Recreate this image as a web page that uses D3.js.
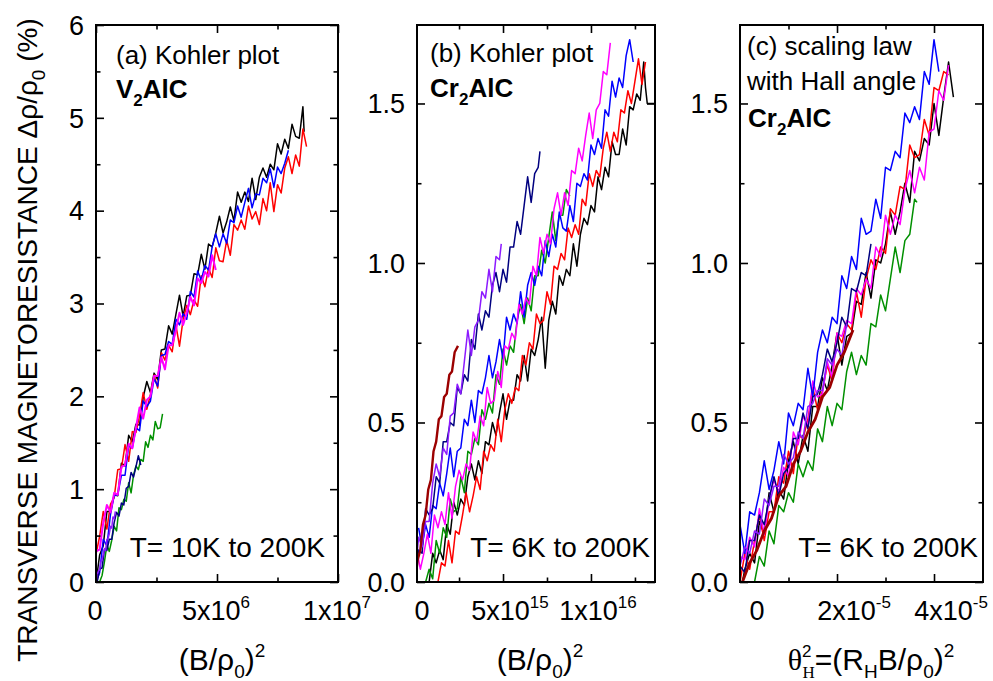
<!DOCTYPE html>
<html>
<head>
<meta charset="utf-8">
<script src="https://cdn.jsdelivr.net/npm/d3@7"></script>
<style>
  body { margin: 0; background: #fff; }
  text { font-family: "Liberation Sans", Arial, sans-serif; fill: #000; }
</style>
</head>
<body>
<svg width="993" height="681"></svg>
<script>
// ---- data ----
// panel (a): x in units of 1e6 (B/rho0)^2, y in %
var a_black = [[0,0.00],[0.15,0.29],[0.3,0.39],[0.45,0.76],[0.6,0.76],[0.75,0.94],[0.9,0.93],[1.05,1.28],[1.2,1.25],[1.35,1.58],[1.5,1.51],[1.65,1.70],[1.8,1.69],[1.95,1.99],[2.1,2.16],[2.25,2.04],[2.4,2.25],[2.55,2.18],[2.7,2.50],[2.85,2.51],[3.0,2.76],[3.15,2.67],[3.3,2.88],[3.45,3.09],[3.6,2.86],[3.75,3.08],[3.9,3.09],[4.05,3.32],[4.2,3.31],[4.35,3.53],[4.5,3.37],[4.65,3.64],[4.8,3.61],[4.95,3.76],[5.1,3.94],[5.25,3.76],[5.4,3.88],[5.55,4.04],[5.7,3.89],[5.85,4.20],[6.0,4.09],[6.15,4.20],[6.3,4.10],[6.45,4.35],[6.6,4.12],[6.75,4.36],[6.9,4.46],[7.05,4.36],[7.2,4.50],[7.35,4.44],[7.5,4.72],[7.65,4.61],[7.8,4.77],[7.95,4.67],[8.1,4.93],[8.25,4.80],[8.4,4.78],[8.55,5.12],[8.6,4.85]];
var a_red = [[0,0.30],[0.15,0.49],[0.3,0.76],[0.45,0.57],[0.6,0.84],[0.75,0.91],[0.9,1.21],[1.05,1.22],[1.2,1.48],[1.35,1.30],[1.5,1.62],[1.65,1.61],[1.8,1.79],[1.95,2.04],[2.1,1.86],[2.25,2.02],[2.4,2.23],[2.55,2.09],[2.7,2.47],[2.85,2.39],[3.0,2.55],[3.15,2.48],[3.3,2.77],[3.45,2.54],[3.6,2.83],[3.75,2.98],[3.9,2.88],[4.05,3.04],[4.2,2.97],[4.35,3.30],[4.5,3.18],[4.65,3.38],[4.8,3.28],[4.95,3.60],[5.1,3.46],[5.25,3.45],[5.4,3.68],[5.55,3.52],[5.7,3.85],[5.85,3.79],[6.0,3.90],[6.15,3.80],[6.3,4.05],[6.45,3.91],[6.6,3.99],[6.75,3.85],[6.9,4.13],[7.05,4.00],[7.2,4.30],[7.35,3.99],[7.5,4.28],[7.65,4.19],[7.8,4.46],[7.95,4.58],[8.1,4.40],[8.25,4.60],[8.4,4.48],[8.55,4.88],[8.7,4.69]];
var a_blue = [[0,0.00],[0.15,0.10],[0.3,0.46],[0.45,0.39],[0.6,0.73],[0.75,0.93],[0.9,0.94],[1.05,1.15],[1.2,1.15],[1.35,1.47],[1.5,1.44],[1.65,1.66],[1.8,1.63],[1.95,1.95],[2.1,1.89],[2.25,1.95],[2.4,2.19],[2.55,2.11],[2.7,2.44],[2.85,2.45],[3.0,2.59],[3.15,2.56],[3.3,2.83],[3.45,2.77],[3.6,2.89],[3.75,2.83],[3.9,3.13],[4.05,3.07],[4.2,3.35],[4.35,3.25],[4.5,3.41],[4.65,3.36],[4.8,3.61],[4.95,3.75],[5.1,3.61],[5.25,3.75],[5.4,3.65],[5.55,3.90],[5.7,3.87],[5.85,4.05],[6.0,3.93],[6.15,4.09],[6.3,4.24],[6.45,4.03],[6.6,4.18],[6.75,4.17],[6.9,4.35],[7.05,4.30],[7.2,4.45],[7.35,4.25],[7.5,4.47],[7.65,4.40],[7.8,4.51],[7.95,4.65]];
var a_magenta = [[0,0.33],[0.15,0.35],[0.3,0.64],[0.45,0.83],[0.6,0.75],[0.75,0.96],[0.9,0.94],[1.05,1.24],[1.2,1.26],[1.35,1.49],[1.5,1.44],[1.65,1.66],[1.8,1.88],[1.95,1.76],[2.1,1.96],[2.25,2.00],[2.4,2.22],[2.55,2.22],[2.7,2.42],[2.85,2.29],[3.0,2.55],[3.15,2.55],[3.3,2.71],[3.45,2.90],[3.6,2.77],[3.75,2.90],[3.9,3.07],[4.05,2.98],[4.2,3.27],[4.35,3.22],[4.5,3.34],[4.65,3.29],[4.8,3.52],[4.95,3.36]];
var a_green = [[0.15,0.00],[0.25,0.07],[0.35,0.22],[0.45,0.40],[0.55,0.33],[0.65,0.45],[0.75,0.60],[0.85,0.55],[0.95,0.80],[1.05,0.78],[1.15,0.89],[1.25,0.87],[1.35,1.07],[1.45,0.96],[1.55,1.15],[1.65,1.25],[1.75,1.21],[1.85,1.32],[1.95,1.30],[2.05,1.51],[2.15,1.45],[2.25,1.58],[2.35,1.53],[2.45,1.73],[2.55,1.65],[2.65,1.66],[2.75,1.81]];
var a_navy = [[0.05,0.00],[0.15,0.14],[0.25,0.15],[0.35,0.35],[0.45,0.34],[0.55,0.46],[0.65,0.46],[0.75,0.64],[0.85,0.75],[0.95,0.71],[1.05,0.85],[1.15,0.83],[1.25,1.01],[1.35,1.03],[1.45,1.18],[1.55,1.13],[1.65,1.24],[1.75,1.36],[1.85,1.26]];
var a_violet = [[0,0.00],[0.05,0.08],[0.1,0.12],[0.15,0.13],[0.2,0.22],[0.25,0.24],[0.3,0.30],[0.35,0.36],[0.4,0.34],[0.45,0.46],[0.5,0.47],[0.55,0.52],[0.6,0.60],[0.65,0.58],[0.7,0.70],[0.75,0.68],[0.8,0.76]];

// panel (b): x in units of 1e15
var b_black = [[0.6,0.00],[0.8,0.00],[1.0,0.09],[1.2,0.06],[1.4,0.10],[1.6,0.07],[1.8,0.18],[2.0,0.15],[2.2,0.25],[2.4,0.21],[2.6,0.26],[2.8,0.24],[3.0,0.33],[3.2,0.37],[3.4,0.32],[3.6,0.38],[3.8,0.34],[4.0,0.44],[4.2,0.43],[4.4,0.50],[4.6,0.46],[4.8,0.53],[5.0,0.59],[5.2,0.51],[5.4,0.57],[5.6,0.57],[5.8,0.65],[6.0,0.63],[6.2,0.71],[6.4,0.63],[6.6,0.73],[6.8,0.71],[7.0,0.76],[7.2,0.83],[7.4,0.67],[7.6,0.82],[7.8,0.88],[8.0,0.84],[8.2,0.96],[8.4,0.93],[8.6,0.98],[8.8,0.96],[9.0,1.06],[9.2,0.99],[9.4,1.09],[9.6,1.14],[9.8,1.12],[10.0,1.18],[10.2,1.16],[10.4,1.27],[10.6,1.23],[10.8,1.30],[11.0,1.27],[11.2,1.38],[11.4,1.34],[11.6,1.34],[11.8,1.42],[12.0,1.37],[12.2,1.49],[12.4,1.48],[12.6,1.53],[12.8,1.51],[13.0,1.63],[13.1,1.55],[13.2,1.50],[13.64,1.50]];
var b_red = [[1.3,0.00],[1.5,0.06],[1.7,0.05],[1.9,0.13],[2.1,0.06],[2.3,0.16],[2.5,0.15],[2.7,0.21],[2.9,0.28],[3.1,0.22],[3.3,0.27],[3.5,0.33],[3.7,0.29],[3.9,0.41],[4.1,0.38],[4.3,0.43],[4.5,0.41],[4.7,0.51],[4.9,0.44],[5.1,0.54],[5.3,0.59],[5.5,0.56],[5.7,0.61],[5.9,0.60],[6.1,0.71],[6.3,0.68],[6.5,0.75],[6.7,0.73],[6.9,0.84],[7.1,0.81],[7.3,0.82],[7.5,0.91],[7.7,0.87],[7.9,0.99],[8.1,0.98],[8.3,1.03],[8.5,1.01],[8.7,1.11],[8.9,1.08],[9.1,1.12],[9.3,1.09],[9.5,1.20],[9.7,1.18],[9.9,1.28],[10.1,1.24],[10.3,1.29],[10.5,1.27],[10.7,1.36],[10.9,1.41],[11.1,1.35],[11.3,1.41],[11.5,1.38],[11.7,1.48],[11.9,1.47],[12.1,1.54],[12.3,1.50],[12.5,1.57],[12.7,1.64],[12.9,1.56],[13.1,1.63]];
var b_green = [[0.4,0.00],[0.6,0.00],[0.8,0.04],[1.0,0.01],[1.2,0.13],[1.4,0.09],[1.6,0.17],[1.8,0.14],[2.0,0.26],[2.2,0.22],[2.4,0.23],[2.6,0.33],[2.8,0.28],[3.0,0.41],[3.2,0.40],[3.4,0.45],[3.6,0.43],[3.8,0.54],[4.0,0.51],[4.2,0.56],[4.4,0.53],[4.6,0.65],[4.8,0.62],[5.0,0.73],[5.2,0.68],[5.4,0.74],[5.6,0.72],[5.8,0.82],[6.0,0.87],[6.2,0.81],[6.4,0.89],[6.6,0.85],[6.8,0.96],[7.0,0.96],[7.2,1.04],[7.4,1.00],[7.6,1.08],[7.8,1.16],[8.0,1.07],[8.2,1.15],[8.4,1.15],[8.6,1.23],[8.8,1.21]];
var b_blue = [[0.2,0.17],[0.4,0.11],[0.6,0.18],[0.8,0.14],[1.0,0.24],[1.2,0.23],[1.4,0.31],[1.6,0.27],[1.8,0.34],[2.0,0.42],[2.2,0.33],[2.4,0.41],[2.6,0.42],[2.8,0.51],[3.0,0.49],[3.2,0.57],[3.4,0.50],[3.6,0.60],[3.8,0.59],[4.0,0.64],[4.2,0.71],[4.4,0.64],[4.6,0.69],[4.8,0.76],[5.0,0.70],[5.2,0.83],[5.4,0.79],[5.6,0.84],[5.8,0.81],[6.0,0.91],[6.2,0.83],[6.4,0.93],[6.6,0.97],[6.8,0.93],[7.0,0.99],[7.2,0.96],[7.4,1.07],[7.6,1.02],[7.8,1.09],[8.0,1.05],[8.2,1.16],[8.4,1.11],[8.6,1.10],[8.8,1.18],[9.0,1.13],[9.2,1.25],[9.4,1.24],[9.6,1.28],[9.8,1.26],[10.0,1.37],[10.2,1.34],[10.4,1.39],[10.6,1.36],[10.8,1.48],[11.0,1.46],[11.2,1.57],[11.4,1.52],[11.6,1.58],[11.8,1.55],[12.0,1.65],[12.2,1.70],[12.4,1.63]];
var b_magenta = [[0.1,0.10],[0.3,0.04],[0.5,0.09],[0.7,0.15],[0.9,0.09],[1.1,0.21],[1.3,0.17],[1.5,0.22],[1.7,0.18],[1.9,0.28],[2.1,0.20],[2.3,0.30],[2.5,0.35],[2.7,0.32],[2.9,0.37],[3.1,0.35],[3.3,0.47],[3.5,0.44],[3.7,0.52],[3.9,0.49],[4.1,0.61],[4.3,0.56],[4.5,0.57],[4.7,0.66],[4.9,0.61],[5.1,0.74],[5.3,0.73],[5.5,0.78],[5.7,0.76],[5.9,0.87],[6.1,0.84],[6.3,0.89],[6.5,0.87],[6.7,0.99],[6.9,0.96],[7.1,1.08],[7.3,1.03],[7.5,1.09],[7.7,1.06],[7.9,1.17],[8.1,1.22],[8.3,1.15],[8.5,1.22],[8.7,1.18],[8.9,1.29],[9.1,1.28],[9.3,1.36],[9.5,1.32],[9.7,1.40],[9.9,1.47],[10.1,1.39],[10.3,1.48],[10.5,1.50],[10.7,1.60],[10.9,1.59],[11.1,1.69]];
var b_navy = [[0,0.02],[0.2,0.10],[0.4,0.09],[0.6,0.23],[0.8,0.21],[1.0,0.23],[1.2,0.33],[1.4,0.31],[1.6,0.44],[1.8,0.44],[2.0,0.50],[2.2,0.49],[2.4,0.61],[2.6,0.59],[2.8,0.65],[3.0,0.63],[3.2,0.76],[3.4,0.73],[3.6,0.84],[3.8,0.79],[4.0,0.85],[4.2,0.83],[4.4,0.93],[4.6,0.97],[4.8,0.91],[5.0,0.98],[5.2,0.94],[5.4,1.05],[5.6,1.05],[5.8,1.13],[6.0,1.09],[6.2,1.18],[6.4,1.27],[6.6,1.19],[6.8,1.28],[7.0,1.30],[7.1,1.35]];
var b_violet = [[0,0.02],[0.2,0.14],[0.4,0.11],[0.6,0.19],[0.8,0.19],[1.0,0.31],[1.2,0.37],[1.4,0.33],[1.6,0.42],[1.8,0.40],[2.0,0.52],[2.2,0.53],[2.4,0.62],[2.6,0.59],[2.8,0.69],[3.0,0.79],[3.2,0.71],[3.4,0.80],[3.6,0.82],[3.8,0.91],[4.0,0.89],[4.2,0.98],[4.4,0.91],[4.6,1.02],[4.8,1.01],[4.9,1.06]];
var b_maroon = [[0,0.00],[0.15,0.07],[0.3,0.10],[0.45,0.18],[0.6,0.21],[0.75,0.29],[0.9,0.32],[1.05,0.41],[1.2,0.44],[1.35,0.51],[1.5,0.52],[1.65,0.58],[1.8,0.59],[1.95,0.65],[2.1,0.66],[2.25,0.72],[2.44,0.74]];

// panel (c): x in units of 1e-5 (theta_H^2)
var c_black = [[0.05,0.00],[0.1,0.04],[0.2,0.09],[0.3,0.06],[0.4,0.19],[0.5,0.15],[0.6,0.28],[0.7,0.22],[0.8,0.29],[0.9,0.26],[1.0,0.38],[1.1,0.44],[1.2,0.37],[1.3,0.46],[1.4,0.41],[1.5,0.55],[1.6,0.55],[1.7,0.64],[1.8,0.60],[1.9,0.68],[2.0,0.78],[2.1,0.68],[2.2,0.77],[2.3,0.78],[2.4,0.88],[2.5,0.87],[2.6,0.97],[2.7,0.89],[2.8,1.01],[2.9,1.00],[3.0,1.06],[3.1,1.16],[3.2,1.09],[3.3,1.16],[3.4,1.25],[3.5,1.19],[3.6,1.35],[3.7,1.32],[3.8,1.39],[3.9,1.37],[4.0,1.50],[4.1,1.40],[4.2,1.52],[4.3,1.63],[4.4,1.52]];
var c_red = [[0,0.00],[0.1,0.09],[0.2,0.04],[0.3,0.13],[0.4,0.21],[0.5,0.13],[0.6,0.22],[0.7,0.22],[0.8,0.33],[0.9,0.31],[1.0,0.41],[1.1,0.34],[1.2,0.46],[1.3,0.45],[1.4,0.51],[1.5,0.61],[1.6,0.54],[1.7,0.60],[1.8,0.68],[1.9,0.63],[2.0,0.78],[2.1,0.75],[2.2,0.81],[2.3,0.79],[2.4,0.91],[2.5,0.83],[2.6,0.95],[2.7,1.01],[2.8,0.98],[2.9,1.05],[3.0,1.03],[3.1,1.17],[3.2,1.15],[3.3,1.24],[3.4,1.23],[3.5,1.37],[3.6,1.33],[3.7,1.34],[3.8,1.45],[3.9,1.40],[4.0,1.55],[4.1,1.54],[4.2,1.60],[4.3,1.59]];
var c_magenta = [[0,0.08],[0.1,0.07],[0.2,0.14],[0.3,0.11],[0.4,0.23],[0.5,0.15],[0.6,0.26],[0.7,0.32],[0.8,0.28],[0.9,0.36],[1.0,0.33],[1.1,0.47],[1.2,0.43],[1.3,0.52],[1.4,0.49],[1.5,0.63],[1.6,0.58],[1.7,0.59],[1.8,0.69],[1.9,0.64],[2.0,0.78],[2.1,0.77],[2.2,0.82],[2.3,0.81],[2.4,0.92],[2.5,0.90],[2.6,0.95],[2.7,0.92],[2.8,1.05],[2.9,1.02],[3.0,1.15],[3.1,1.09],[3.2,1.15],[3.3,1.12],[3.4,1.23],[3.5,1.29],[3.6,1.22],[3.7,1.30],[3.8,1.26],[3.9,1.41],[4.0,1.42],[4.1,1.54],[4.2,1.51],[4.3,1.62]];
var c_blue = [[0,0.18],[0.1,0.09],[0.2,0.22],[0.3,0.21],[0.4,0.28],[0.5,0.38],[0.6,0.29],[0.7,0.35],[0.8,0.44],[0.9,0.37],[1.0,0.53],[1.1,0.49],[1.2,0.56],[1.3,0.54],[1.4,0.67],[1.5,0.58],[1.6,0.72],[1.7,0.79],[1.8,0.75],[1.9,0.83],[2.0,0.81],[2.1,0.96],[2.2,0.92],[2.3,1.02],[2.4,0.98],[2.5,1.14],[2.6,1.09],[2.7,1.10],[2.8,1.20],[2.9,1.14],[3.0,1.30],[3.1,1.29],[3.2,1.35],[3.3,1.33],[3.4,1.47],[3.5,1.44],[3.6,1.49],[3.7,1.45],[3.8,1.60],[3.9,1.56],[4.0,1.70],[4.1,1.60]];
var c_navy = [[0,0.05],[0.1,0.03],[0.2,0.13],[0.3,0.13],[0.4,0.21],[0.5,0.18],[0.6,0.26],[0.7,0.33],[0.8,0.27],[0.9,0.34],[1.0,0.36],[1.1,0.45],[1.2,0.45],[1.3,0.53],[1.4,0.48],[1.5,0.58],[1.6,0.59],[1.7,0.65],[1.8,0.73],[1.9,0.69],[2.0,0.75],[2.1,0.83],[2.2,0.80],[2.3,0.92],[2.4,0.91],[2.5,0.97],[2.6,0.96],[2.7,1.06]];
var c_violet = [[0,0.05],[0.1,0.11],[0.2,0.09],[0.3,0.16],[0.4,0.15],[0.5,0.26],[0.6,0.24],[0.7,0.30],[0.8,0.30],[0.9,0.40],[1.0,0.37],[1.1,0.39],[1.2,0.47],[1.3,0.45],[1.4,0.55],[1.5,0.56],[1.6,0.60],[1.7,0.60],[1.8,0.70],[1.9,0.68],[2.0,0.73],[2.1,0.71],[2.2,0.81]];
var c_green = [[0.3,0.00],[0.4,0.08],[0.5,0.05],[0.6,0.16],[0.7,0.12],[0.8,0.24],[0.9,0.22],[1.0,0.28],[1.1,0.25],[1.2,0.37],[1.3,0.33],[1.4,0.38],[1.5,0.35],[1.6,0.48],[1.7,0.44],[1.8,0.55],[1.9,0.49],[2.0,0.56],[2.1,0.54],[2.2,0.66],[2.3,0.72],[2.4,0.65],[2.5,0.71],[2.6,0.68],[2.7,0.81],[2.8,0.80],[2.9,0.90],[3.0,0.85],[3.1,0.95],[3.2,1.05],[3.3,0.97],[3.4,1.07],[3.5,1.09],[3.6,1.20],[3.65,1.19]];
var c_maroon = [[0.05,0.00],[0.2,0.06],[0.35,0.10],[0.5,0.16],[0.65,0.20],[0.8,0.27],[0.95,0.30],[1.1,0.37],[1.25,0.41],[1.4,0.47],[1.55,0.51],[1.7,0.58],[1.85,0.61],[2.0,0.68],[2.15,0.72],[2.33,0.79]];

// tick values
var aYMajor = [0, 1, 2, 3, 4, 5, 6], aYMinor = [0.5, 1.5, 2.5, 3.5, 4.5, 5.5];
var aXMajor = [0, 5, 10], aXMinor = [2.5, 7.5];
var bcYMajor = [0, 0.5, 1.0, 1.5], bcYMinor = [0.25, 0.75, 1.25];
var bXMajor = [5, 10], bXMinor = [2.5, 7.5, 12.5];
var cXMajor = [2, 4], cXMinor = [1, 3];
var aXLabels = [["0", ""], ["5x10", "6"], ["1x10", "7"]], aXLabelAt = [0, 5, 10];
var bXLabels = [["0", ""], ["5x10", "15"], ["1x10", "16"]], bXLabelAt = [0, 5, 10];
var cXLabels = [["0", ""], ["2x10", "-5"], ["4x10", "-5"]], cXLabelAt = [0, 2, 4];

var C = { black: "#000000", red: "#ff0000", blue: "#0000ff", magenta: "#ff00ff",
          green: "#009000", navy: "#000080", violet: "#8c1aff", maroon: "#9b0000" };

var svg = d3.select("svg");
var top_ = 25, bottom = 582;

var panels = [
  { id: "a", left: 96, right: 338, xDom: [0, 10], yDom: [0, 6],
    yMaj: aYMajor, yMin: aYMinor, yFmt: d3.format("d"),
    xMaj: aXMajor, xMin: aXMinor, xLab: aXLabels, xLabAt: aXLabelAt, xLabDx: -1,
    series: [[a_black, C.black], [a_red, C.red], [a_blue, C.blue], [a_green, C.green],
             [a_navy, C.navy], [a_violet, C.violet], [a_magenta, C.magenta, 2.0]] },
  { id: "b", left: 417, right: 655, xDom: [0.11, 13.64], yDom: [0, 1.746],
    yMaj: bcYMajor, yMin: bcYMinor, yFmt: d3.format(".1f"),
    xMaj: bXMajor, xMin: bXMinor, xLab: bXLabels, xLabAt: bXLabelAt, xLabDx: 7,
    series: [[b_black, C.black], [b_red, C.red], [b_green, C.green], [b_blue, C.blue],
             [b_magenta, C.magenta], [b_navy, C.navy], [b_violet, C.violet], [b_maroon, C.maroon, 2.4]] },
  { id: "c", left: 740, right: 983, xDom: [0, 5.01], yDom: [0, 1.746],
    yMaj: bcYMajor, yMin: bcYMinor, yFmt: d3.format(".1f"),
    xMaj: cXMajor, xMin: cXMinor, xLab: cXLabels, xLabAt: cXLabelAt, xLabDx: 17,
    series: [[c_black, C.black], [c_red, C.red], [c_magenta, C.magenta], [c_blue, C.blue],
             [c_navy, C.navy], [c_violet, C.violet], [c_green, C.green], [c_maroon, C.maroon, 2.8]] }
];

panels.forEach(function(p) {
  var x = d3.scaleLinear().domain(p.xDom).range([p.left, p.right]);
  var y = d3.scaleLinear().domain(p.yDom).range([bottom, top_]);
  var g = svg.append("g");

  g.append("clipPath").attr("id", "clip-" + p.id)
    .append("rect").attr("x", p.left).attr("y", top_)
    .attr("width", p.right - p.left).attr("height", bottom - top_);

  var line = d3.line().x(function(d){ return x(d[0]); }).y(function(d){ return y(d[1]); });
  var dg = g.append("g").attr("clip-path", "url(#clip-" + p.id + ")");
  p.series.forEach(function(s) {
    dg.append("path").datum(s[0])
      .attr("d", line)
      .attr("fill", "none")
      .attr("stroke", s[1])
      .attr("stroke-width", s[2] || 1.5)
      .attr("stroke-linejoin", "round");
  });

  // inward ticks on all four sides
  function ticks(axis, tx, ty, vals, len) {
    var a = g.append("g").attr("transform", "translate(" + tx + "," + ty + ")")
      .call(axis.tickValues(vals).tickSize(-len).tickFormat(""));
    a.select(".domain").remove();
    a.selectAll("line").attr("stroke", "#000").attr("stroke-width", 1.6);
  }
  ticks(d3.axisBottom(x), 0, bottom, p.xMaj, 8);
  ticks(d3.axisBottom(x), 0, bottom, p.xMin, 4.5);
  ticks(d3.axisTop(x), 0, top_, p.xMaj, 8);
  ticks(d3.axisTop(x), 0, top_, p.xMin, 4.5);
  ticks(d3.axisLeft(y), p.left, 0, p.yMaj, 8);
  ticks(d3.axisLeft(y), p.left, 0, p.yMin, 4.5);
  ticks(d3.axisRight(y), p.right, 0, p.yMaj, 8);
  ticks(d3.axisRight(y), p.right, 0, p.yMin, 4.5);

  // frame
  g.append("rect").attr("x", p.left).attr("y", top_)
    .attr("width", p.right - p.left).attr("height", bottom - top_)
    .attr("fill", "none").attr("stroke", "#000").attr("stroke-width", 2);

  // y tick labels
  p.yMaj.forEach(function(v) {
    g.append("text").attr("x", p.left - 12).attr("y", y(v))
      .attr("dy", "0.36em").attr("text-anchor", "end")
      .style("font-size", "27px").text(p.yFmt(v));
  });

  // x tick labels with superscript exponents
  p.xLabAt.forEach(function(v, i) {
    var t = g.append("text").attr("x", x(v) + p.xLabDx).attr("y", 620)
      .attr("text-anchor", "middle").style("font-size", "27px");
    t.append("tspan").text(p.xLab[i][0]);
    if (p.xLab[i][1]) t.append("tspan").attr("dy", -12).style("font-size", "17px").text(p.xLab[i][1]);
  });
});

// ---- annotations ----
function title(x0, y0, str) {
  svg.append("text").attr("x", x0).attr("y", y0).style("font-size", "26px").text(str);
}
function formula(x0, y0, el) {
  var t = svg.append("text").attr("x", x0).attr("y", y0)
    .style("font-size", "26px").style("font-weight", "bold");
  t.append("tspan").text(el);
  t.append("tspan").attr("dy", 8).style("font-size", "17px").text("2");
  t.append("tspan").attr("dy", -8).text("AlC");
}
title(116, 64, "(a) Kohler plot");
formula(116, 98, "V");
title(430, 62, "(b) Kohler plot");
formula(430, 97, "Cr");
title(747, 55, "(c) scaling law");
title(747, 90, "with Hall angle");
formula(748, 127, "Cr");

[[325, "T= 10K to 200K"], [650, "T= 6K to 200K"], [978, "T= 6K to 200K"]].forEach(function(d) {
  svg.append("text").attr("x", d[0]).attr("y", 557).attr("text-anchor", "end")
    .style("font-size", "28px").text(d[1]);
});

// ---- axis titles ----
function bRho(cx) {
  var t = svg.append("text").attr("x", cx).attr("y", 670).attr("text-anchor", "middle")
    .style("font-size", "30px");
  t.append("tspan").text("(B/\u03c1");
  t.append("tspan").attr("dy", 8).style("font-size", "19px").text("0");
  t.append("tspan").attr("dy", -8).text(")");
  t.append("tspan").attr("dy", -13).style("font-size", "19px").text("2");
}
bRho(222);
bRho(540);

var ct = svg.append("text").attr("x", 871).attr("y", 670).attr("text-anchor", "middle")
  .style("font-size", "30px");
ct.append("tspan").style("font-family", "'Liberation Serif', serif").text("\u03b8");
ct.append("tspan").attr("dy", -13).style("font-size", "17px").text("2");
ct.append("tspan").attr("dx", -9).attr("dy", 21).style("font-size", "17px")
  .style("font-family", "'Liberation Serif', serif").text("H");
ct.append("tspan").attr("dy", -8).text("=(R");
ct.append("tspan").attr("dy", 8).style("font-size", "19px").text("H");
ct.append("tspan").attr("dy", -8).text("B/\u03c1");
ct.append("tspan").attr("dy", 8).style("font-size", "19px").text("0");
ct.append("tspan").attr("dy", -8).text(")");
ct.append("tspan").attr("dy", -13).style("font-size", "19px").text("2");

var yt = svg.append("text").attr("transform", "translate(37,340) rotate(-90)")
  .attr("text-anchor", "middle").style("font-size", "28px");
yt.append("tspan").text("TRANSVERSE MAGNETORESISTANCE \u0394\u03c1/\u03c1");
yt.append("tspan").attr("dy", 8).style("font-size", "19px").text("0");
yt.append("tspan").attr("dy", -8).text(" (%)");
</script>
</body>
</html>
